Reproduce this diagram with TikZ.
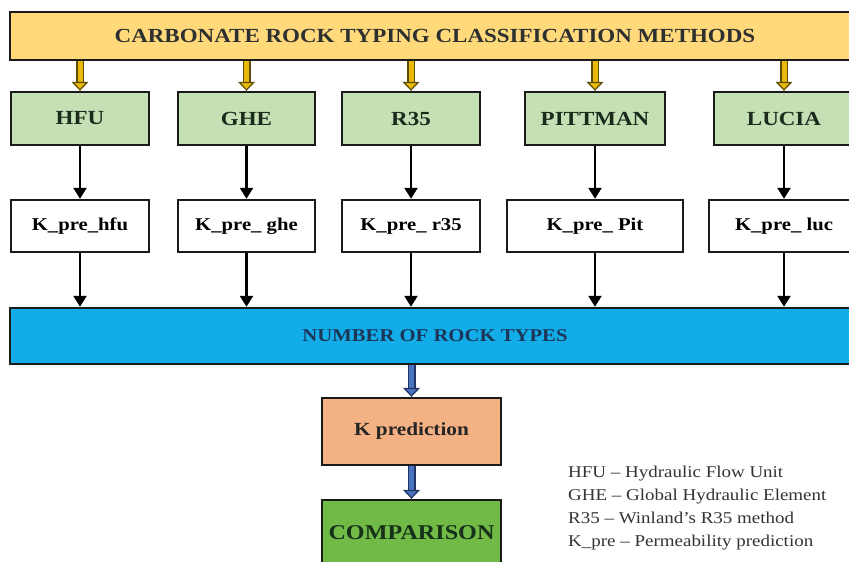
\documentclass[tikz,border=0pt]{standalone}
\usepackage{fontspec}
\setmainfont{Liberation Serif}[FakeStretch=1.15]
\usetikzlibrary{arrows.meta}
\definecolor{bannerfill}{HTML}{FFD97A}
\definecolor{titlecol}{HTML}{2E3030}
\definecolor{methfill}{HTML}{C5E0B4}
\definecolor{methtext}{HTML}{1C2A1C}
\definecolor{bandfill}{HTML}{12ACE8}
\definecolor{bandtext}{HTML}{1C3658}
\definecolor{predfill}{HTML}{F4B183}
\definecolor{compfill}{HTML}{70BA45}
\definecolor{comptext}{HTML}{17301A}
\definecolor{yfill}{HTML}{E8B90A}
\definecolor{yedge}{HTML}{5E4C05}
\definecolor{bfill}{HTML}{4A74C0}
\definecolor{bedge}{HTML}{1F3460}
\definecolor{legtext}{HTML}{333333}
\definecolor{edge}{HTML}{1A1A1A}
\begin{document}
\begin{tikzpicture}[x=1pt,y=-1pt,
  boxbase/.style={draw=edge, line width=2.4pt, inner sep=0pt, align=center},
  banner/.style={boxbase, fill=bannerfill, text=titlecol, minimum width=850pt, minimum height=48pt,
    font=\fontsize{20}{24}\selectfont\bfseries},
  method/.style={boxbase, fill=methfill, text=methtext, minimum height=53pt,
    font=\fontsize{20}{24}\selectfont\bfseries},
  kbox/.style={boxbase, fill=white, text=black, minimum height=52pt,
    font=\fontsize{18}{22}\selectfont\bfseries},
  band/.style={boxbase, fill=bandfill, text=bandtext, minimum width=850pt, minimum height=56pt,
    font=\fontsize{18}{22}\selectfont\bfseries},
  predbox/.style={boxbase, fill=predfill, text=black!85, minimum width=179pt, minimum height=67pt,
    font=\fontsize{18.5}{22}\selectfont\bfseries},
  compbox/.style={boxbase, fill=compfill, text=comptext, minimum width=179pt, minimum height=66pt,
    font=\fontsize{21}{25}\selectfont\bfseries},
  legend/.style={inner sep=0pt, align=left, text=legtext, font=\fontsize{16.5}{23}\selectfont},
  yshaft/.style={draw=yedge, line width=8pt, shorten >=8.5pt},
  yhead/.style={draw=yfill, line width=5pt,
    -{Triangle[width=17pt,length=9pt,line width=1.2pt,fill=yfill,color=yedge]}},
  bshaft/.style={draw=bedge, line width=8pt, shorten >=8.5pt},
  bhead/.style={draw=bfill, line width=4.5pt,
    -{Triangle[width=17pt,length=9pt,line width=1.2pt,fill=bfill,color=bedge]}},
  blk/.style={draw=black, line width=2.4pt, -{Triangle[width=13pt,length=11pt]}}
]
\useasboundingbox (0,0) rectangle (849,562);
\fill[white] (0,0) rectangle (849,562);
\clip (0,0) rectangle (849,562);

\node[banner] (title) at (435,36) {CARBONATE ROCK TYPING CLASSIFICATION METHODS};

\node[method, minimum width=138pt] (hfu) at (80,118.5) {HFU};
\node[method, minimum width=137pt] (ghe) at (246.5,118.5) {GHE};
\node[method, minimum width=138pt] (r35) at (411,118.5) {R35};
\node[method, minimum width=140pt] (pit) at (595,118.5) {PITTMAN};
\node[method, minimum width=140pt] (luc) at (784,118.5) {LUCIA};

\node[kbox, minimum width=138pt] (khfu) at (80,226) {K\_pre\_hfu};
\node[kbox, minimum width=137pt] (kghe) at (246.5,226) {K\_pre\_ ghe};
\node[kbox, minimum width=138pt] (kr35) at (411,226) {K\_pre\_ r35};
\node[kbox, minimum width=176pt] (kpit) at (595,226) {K\_pre\_ Pit};
\node[kbox, minimum width=150pt] (kluc) at (784,226) {K\_pre\_ luc};

\node[band] (band) at (435,336) {NUMBER OF ROCK TYPES};

\node[predbox] (kpred) at (411.5,431.5) {K prediction};
\node[compbox] (comp) at (411.5,533) {COMPARISON};

\node[legend, anchor=north west] (legend) at (568,466)
  {HFU – Hydraulic Flow Unit\\
   GHE – Global Hydraulic Element\\
   R35 – Winland’s R35 method\\
   K\_pre – Permeability prediction};

\foreach \m/\k in {hfu/khfu, ghe/kghe, r35/kr35, pit/kpit, luc/kluc} {
  \draw[yshaft] (title.south -| \m.north) -- (\m.north);
  \draw[yhead] (title.south -| \m.north) -- (\m.north);
  \draw[blk] (\m.south) -- (\k.north -| \m.south);
  \draw[blk] (\k.south -| \m.south) -- (band.north -| \m.south);
}

\draw[bshaft] (band.south -| kpred.north) -- (kpred.north);
\draw[bhead] (band.south -| kpred.north) -- (kpred.north);
\draw[bshaft] (kpred.south) -- (comp.north);
\draw[bhead] (kpred.south) -- (comp.north);
\end{tikzpicture}
\end{document}
